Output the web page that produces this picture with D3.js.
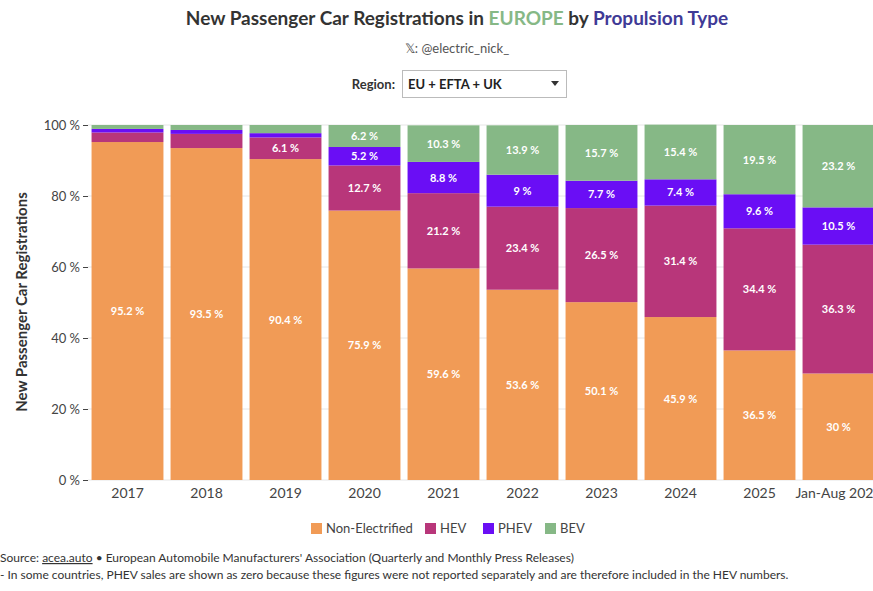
<!DOCTYPE html><html><head><meta charset="utf-8"><script src="https://cdn.jsdelivr.net/npm/d3@7"></script>
<style>body{margin:0;background:#fff;font-family:Lato,sans-serif}</style></head><body><svg id="c" width="873" height="591"></svg>
<script>
const categories=["2017","2018","2019","2020","2021","2022","2023","2024","2025","Jan-Aug 2026"];
const nonElectrified=[95.2,93.5,90.4,75.9,59.6,53.6,50.1,45.9,36.5,30];
const hev=[2.7,4.0,6.1,12.7,21.2,23.4,26.5,31.4,34.4,36.3];
const phev=[1.0,1.1,1.2,5.2,8.8,9,7.7,7.4,9.6,10.5];
const bev=[1.1,1.4,2.3,6.2,10.3,13.9,15.7,15.4,19.5,23.2];
const seriesNames=["Non-Electrified","HEV","PHEV","BEV"];
const colors=["#f19b56","#b8367a","#6a0ef5","#86b886"];
const yTicks=[0,20,40,60,80,100];
const svg=d3.select("#c");
const vals=[nonElectrified,hev,phev,bev];
const rows=categories.map((c,i)=>{const o={cat:c};seriesNames.forEach((s,j)=>o[s]=vals[j][i]);return o;});
const stack=d3.stack().keys(seriesNames)(rows);
const x=d3.scaleBand().domain(categories).range([88,878]).paddingInner(0.09).paddingOuter(0.045);
const y=d3.scaleLinear().domain([0,100]).range([480,125]);
svg.append("g").selectAll("line").data(yTicks).join("line").attr("x1",88).attr("x2",873).attr("y1",d=>y(d)).attr("y2",d=>y(d)).attr("stroke","#e6e6e6");
stack.forEach((s,j)=>{
  svg.append("g").selectAll("rect").data(s).join("rect").attr("x",d=>x(d.data.cat)).attr("width",x.bandwidth())
   .attr("y",d=>y(d[1])).attr("height",d=>y(d[0])-y(d[1])).attr("fill",colors[j]);
  svg.append("g").selectAll("text").data(s.filter(d=>d[1]-d[0]>5)).join("text")
   .attr("x",d=>x(d.data.cat)+x.bandwidth()/2).attr("y",d=>(y(d[0])+y(d[1]))/2+4).attr("text-anchor","middle")
   .attr("fill","#fff").attr("font-size",11).attr("font-weight","bold").text(d=>(+(d[1]-d[0]).toFixed(1))+" %");
});
const ya=svg.append("g").attr("transform","translate(88,0)").call(d3.axisLeft(y).tickValues(yTicks).tickFormat(d=>d+" %").tickSize(5));
ya.select(".domain").remove();ya.selectAll("text").attr("font-size",13).attr("fill","#444").attr("font-family","Lato");ya.selectAll("line").attr("stroke","#444");
const xa=svg.append("g").attr("transform","translate(0,480)").call(d3.axisBottom(x).tickSize(0).tickPadding(8));
xa.select(".domain").remove();xa.selectAll("text").attr("font-size",14).attr("fill","#444").attr("font-family","Lato");
svg.append("text").attr("transform","translate(27,302) rotate(-90)").attr("text-anchor","middle").attr("font-size",15).attr("font-weight","bold").attr("fill","#333").text("New Passenger Car Registrations");
const t=svg.append("text").attr("x",457).attr("y",25).attr("text-anchor","middle").attr("font-size",19).attr("font-weight","bold").attr("fill","#333");
t.append("tspan").text("New Passenger Car Registrations in ");
t.append("tspan").attr("fill","#86b886").text("EUROPE");
t.append("tspan").text(" by ");
t.append("tspan").attr("fill","#3f3a96").text("Propulsion Type");
svg.append("text").attr("x",457).attr("y",53).attr("text-anchor","middle").attr("font-size",13).attr("fill","#555").text("𝕏: @electric_nick_");
svg.append("text").attr("x",395).attr("y",89).attr("text-anchor","end").attr("font-size",13).attr("font-weight","bold").attr("fill","#333").text("Region:");
svg.append("rect").attr("x",402.5).attr("y",70.5).attr("width",164).attr("height",27).attr("fill","#fff").attr("stroke","#bbb");
svg.append("text").attr("x",408).attr("y",89).attr("font-size",13).attr("font-weight","bold").attr("fill","#222").text("EU + EFTA + UK");
svg.append("path").attr("d","M551,81 L559,81 L555,86 Z").attr("fill","#333");
const lx=[311,425,483,545];
seriesNames.forEach((s,i)=>{
  svg.append("rect").attr("x",lx[i]).attr("y",523).attr("width",11).attr("height",11).attr("fill",colors[i]);
  svg.append("text").attr("x",lx[i]+15).attr("y",533).attr("font-size",13).attr("fill","#444").text(s);
});
const s1=svg.append("text").attr("x",0).attr("y",562).attr("font-size",12).attr("fill","#333");
s1.append("tspan").text("Source: ");
s1.append("tspan").attr("text-decoration","underline").text("acea.auto");
s1.append("tspan").text(" • European Automobile Manufacturers' Association (Quarterly and Monthly Press Releases)");
svg.append("text").attr("x",0).attr("y",579).attr("font-size",12).attr("fill","#333").text("- In some countries, PHEV sales are shown as zero because these figures were not reported separately and are therefore included in the HEV numbers.");
</script></body></html>
